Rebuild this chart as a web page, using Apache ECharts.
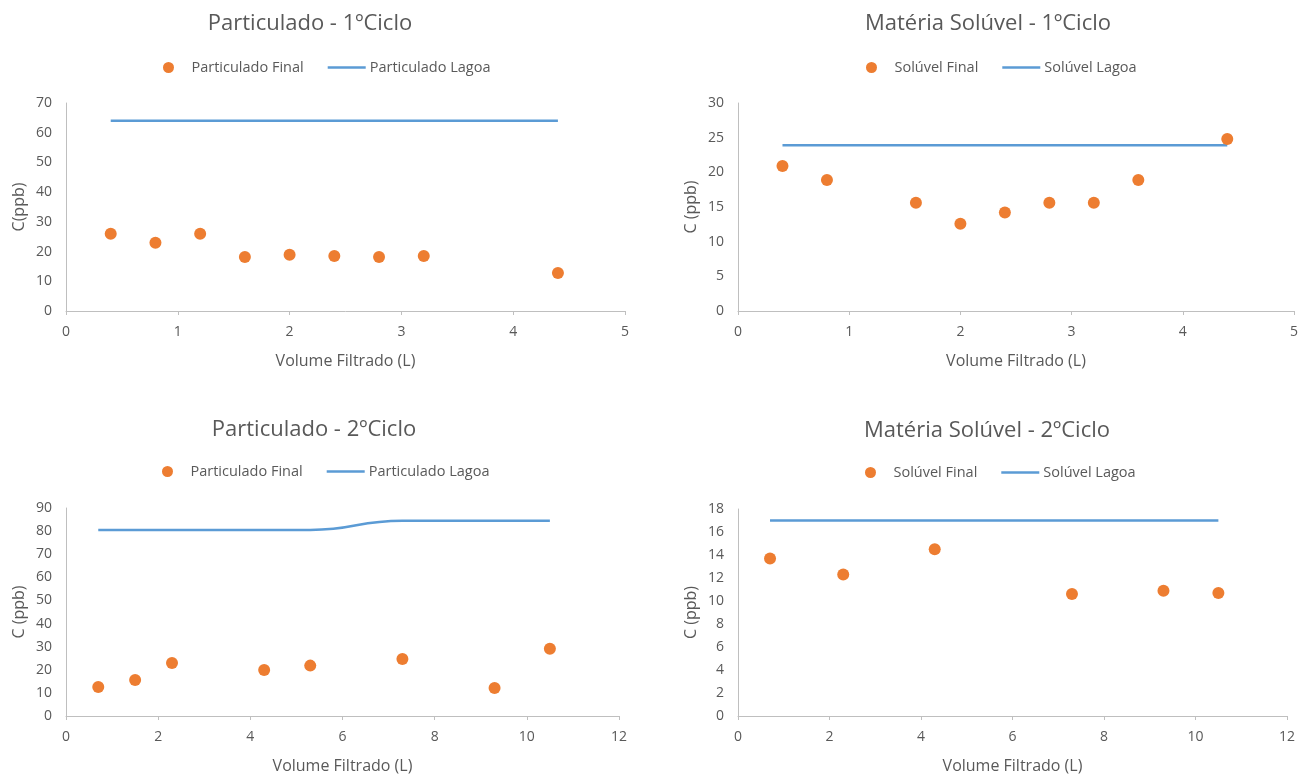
<!DOCTYPE html>
<html><head><meta charset="utf-8">
<script src="https://cdn.jsdelivr.net/npm/echarts@6/dist/echarts.min.js"></script>
<style>html,body{margin:0;padding:0;background:#fff}#c{width:1301px;height:775px}</style>
</head><body><div id="c"></div>
<script>
// Chart 1: Particulado - 1ºCiclo
const x1 = [0.4, 0.8, 1.2, 1.6, 2.0, 2.4, 2.8, 3.2, 4.4];
const final1 = [26, 23, 26, 18.2, 18.9, 18.5, 18.2, 18.5, 12.8];
const lagoa1 = [64, 64, 64, 64, 64, 64, 64, 64, 64];
// Chart 2: Matéria Solúvel - 1ºCiclo
const x2 = [0.4, 0.8, 1.6, 2.0, 2.4, 2.8, 3.2, 3.6, 4.4];
const final2 = [20.9, 18.9, 15.6, 12.6, 14.2, 15.6, 15.6, 18.9, 24.8];
const lagoa2 = [23.9, 23.9, 23.9, 23.9, 23.9, 23.9, 23.9, 23.9, 23.9];
// Chart 3: Particulado - 2ºCiclo
const x3 = [0.7, 1.5, 2.3, 4.3, 5.3, 7.3, 9.3, 10.5];
const final3 = [12.5, 15.6, 22.9, 19.9, 21.8, 24.7, 12.1, 29.1];
const lagoa3 = [80.5, 80.5, 80.5, 80.5, 80.5, 84.5, 84.5, 84.5];
// Chart 4: Matéria Solúvel - 2ºCiclo
const x4 = [0.7, 2.3, 4.3, 7.3, 9.3, 10.5];
const final4 = [13.7, 12.3, 14.5, 10.6, 10.9, 10.7];
const lagoa4 = [17, 17, 17, 17, 17, 17];

const titles = ['Particulado - 1ºCiclo', 'Matéria Solúvel - 1ºCiclo', 'Particulado - 2ºCiclo', 'Matéria Solúvel - 2ºCiclo'];
const finalNames = ['Particulado Final', 'Solúvel Final', 'Particulado Final', 'Solúvel Final'];
const lagoaNames = ['Particulado Lagoa', 'Solúvel Lagoa', 'Particulado Lagoa', 'Solúvel Lagoa'];
const yNames = ['C(ppb)', 'C (ppb)', 'C (ppb)', 'C (ppb)'];
const xName = 'Volume Filtrado (L)';
const xMax = [5, 5, 12, 12], xInt = [1, 1, 2, 2];
const yMax = [70, 30, 90, 18], yInt = [10, 5, 10, 2];

const xs = [x1, x2, x3, x4], finals = [final1, final2, final3, final4], lagoas = [lagoa1, lagoa2, lagoa3, lagoa4];
const grids = [
  {left: 66, width: 559, top: 103, height: 208},
  {left: 738, width: 559, top: 103, height: 208},
  {left: 66, width: 553, top: 508, height: 208},
  {left: 738, width: 549, top: 509, height: 207}
];
const titlePos = [[305, 8], [983, 8], [309, 414], [982, 415]];
const legendPos = [[158, 55], [861, 55], [157, 459], [860, 460]];
const FONT = "'Open Sans', sans-serif";
const TXT = '#595959';
const ORANGE = '#ED7D31', BLUE = '#5B9BD5', AXIS = '#BFBFBF';
// unique series names per chart (legends are per chart)
const sfx = ['', '', '\u200B', '\u200B'];

const option = {
  animation: false,
  backgroundColor: '#fff',
  title: titles.map((t, i) => ({
    text: t, left: titlePos[i][0], top: titlePos[i][1], textAlign: 'center',
    textStyle: {fontFamily: FONT, fontSize: 22, fontWeight: 'normal', color: TXT}
  })),
  legend: titles.map((t, i) => ({
    left: legendPos[i][0], top: legendPos[i][1],
    data: [
      {name: finalNames[i] + sfx[i], icon: 'circle'},
      {name: lagoaNames[i] + sfx[i], icon: 'path://M0,0H38V2.5H0Z'}
    ],
    itemWidth: 38, itemHeight: 11, itemGap: 24,
    textStyle: {fontFamily: FONT, fontSize: 14.5, color: TXT, padding: [0, 0, 0, -1]}
  })),
  grid: grids,
  xAxis: grids.map((g, i) => ({
    type: 'value', gridIndex: i, min: 0, max: xMax[i], interval: xInt[i],
    name: xName, nameLocation: 'middle', nameGap: 42,
    nameTextStyle: {fontFamily: FONT, fontSize: 16, color: TXT},
    axisLine: {lineStyle: {color: AXIS, width: 1}},
    axisTick: {show: true, inside: false, length: 4, lineStyle: {color: AXIS}},
    splitLine: {show: false},
    axisLabel: {fontFamily: FONT, fontSize: 14, color: TXT, margin: 14}
  })),
  yAxis: grids.map((g, i) => ({
    type: 'value', gridIndex: i, min: 0, max: yMax[i], interval: yInt[i],
    name: yNames[i], nameLocation: 'middle', nameGap: 39,
    nameTextStyle: {fontFamily: FONT, fontSize: 16, color: TXT},
    axisLine: {show: true, lineStyle: {color: AXIS, width: 1}},
    axisTick: {show: false},
    splitLine: {show: false},
    axisLabel: {fontFamily: FONT, fontSize: 14, color: TXT, margin: 14}
  })),
  series: []
};
for (let i = 0; i < 4; i++) {
  option.series.push({
    type: 'scatter', name: finalNames[i] + sfx[i], xAxisIndex: i, yAxisIndex: i,
    data: xs[i].map((x, k) => [x, finals[i][k]]),
    symbolSize: 12, itemStyle: {color: ORANGE, opacity: 1}, z: 3
  });
  option.series.push({
    type: 'line', name: lagoaNames[i] + sfx[i], xAxisIndex: i, yAxisIndex: i,
    data: xs[i].map((x, k) => [x, lagoas[i][k]]),
    symbol: 'none', smooth: i === 2 ? 0.5 : false,
    lineStyle: {color: BLUE, width: 2.5}, itemStyle: {color: BLUE}, z: 2
  });
}
const chart = echarts.init(document.getElementById('c'), null, {renderer: 'canvas'});
chart.setOption(option);
</script></body></html>
